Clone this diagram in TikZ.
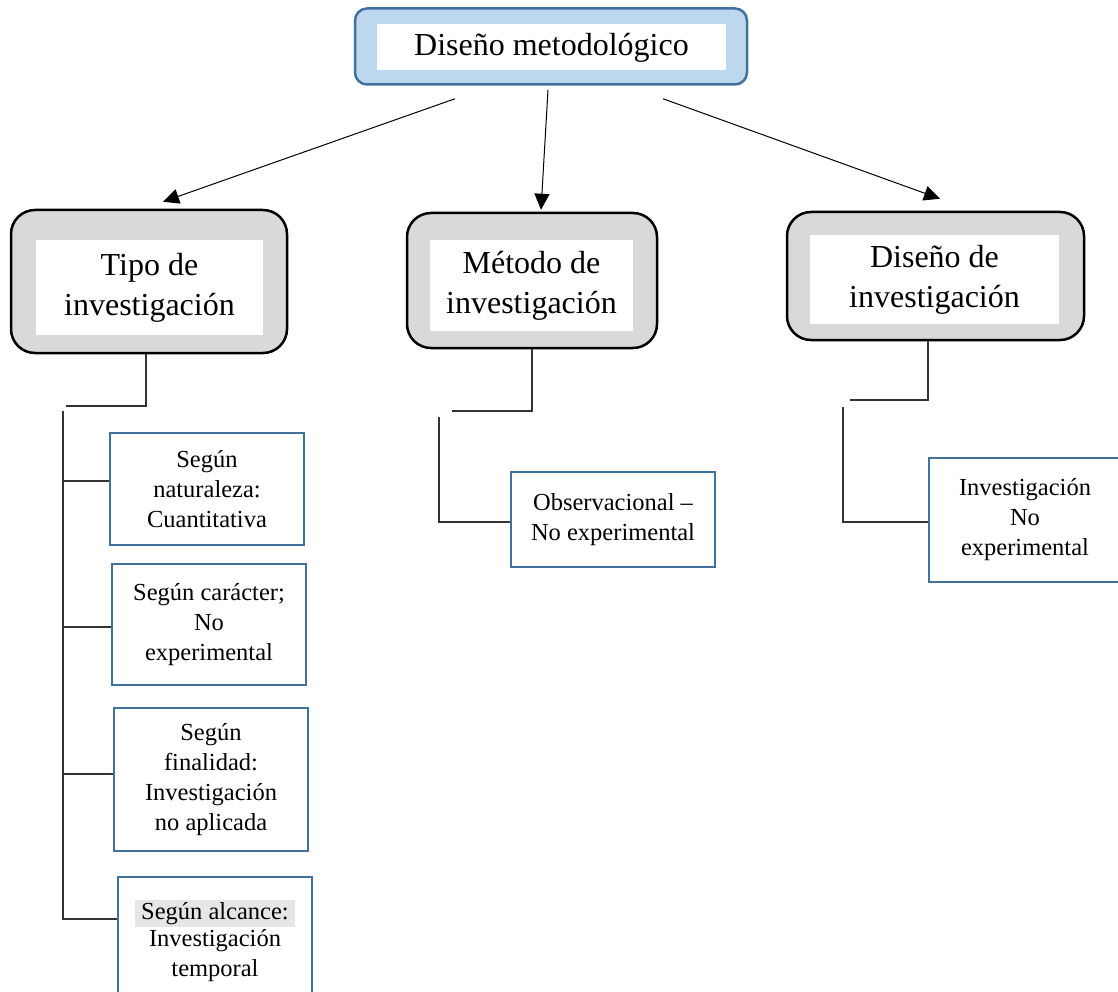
\documentclass[tikz,border=0pt]{standalone}
\usepackage{fontspec}
\setmainfont{Liberation Serif}
\usetikzlibrary{arrows.meta, calc, shapes, positioning}

\definecolor{boxblue}{HTML}{41719C}
\definecolor{lightblue}{HTML}{BDD7EE}
\definecolor{boxgray}{HTML}{D9D9D9}
\definecolor{markgray}{HTML}{E7E6E6}

\tikzset{
	mainbox/.style={draw=boxblue, line width=2.5pt, fill=lightblue, rounded corners=12pt, inner sep=0pt},
	groupbox/.style={draw=black, line width=2.5pt, fill=boxgray, rounded corners=24pt, inner sep=0pt},
	innerbox/.style={fill=white, align=center, inner sep=0pt, font=\fontsize{32}{40}\selectfont},
	leafbox/.style={draw=boxblue, line width=2pt, fill=white, align=center, inner sep=0pt, minimum width=194pt, font=\fontsize{24.5}{30}\selectfont},
	link/.style={line width=1.3pt, draw=black!80},
	pointer/.style={line width=1pt, -{Triangle[length=16pt,width=15pt]}}
}

\begin{document}
\begin{tikzpicture}[x=1pt, y=-1pt]
			\useasboundingbox (0,0) rectangle (1118,992);
			\clip (0,0) rectangle (1118,992);
			
			% Draw Top Box
			\node[mainbox, minimum width=392pt, minimum height=76pt] (top) at (551,46.5) {};
			\node[innerbox, minimum width=349pt, minimum height=46pt] (topTxt) at (551.5,47.5) {Diseño metodológico};
			
			% Draw Group Boxes
			\node[groupbox, minimum width=276pt, minimum height=143pt] (tipo) at (149,281.5) {};
			\node[innerbox, minimum width=227pt, minimum height=95pt] (tipoTxt) at (149.5,287.5) {Tipo de\\investigación};
			\node[groupbox, minimum width=250pt, minimum height=135pt] (metodo) at (532,280.5) {};
			\node[innerbox, minimum width=203pt, minimum height=91pt] (metodoTxt) at (531.5,285.5) {Método de\\investigación};
			\node[groupbox, minimum width=297pt, minimum height=128pt] (diseno) at (935.5,276) {};
			\node[innerbox, minimum width=249pt, minimum height=89pt] (disenoTxt) at (934.5,279.5) {Diseño de\\investigación};
			
			% Draw Arrows
			\draw[pointer] ([xshift=-96pt,yshift=-13pt]top.south) -- ([xshift=14pt,yshift=7pt]tipo.north);
			\draw[pointer] ([xshift=-3pt,yshift=-4pt]top.south) -- ([xshift=9pt,yshift=2pt]metodo.north);
			\draw[pointer] ([xshift=112pt,yshift=-13pt]top.south) -- ([xshift=4.5pt,yshift=12pt]diseno.north);
			
			% Draw Leaf Boxes
			\node[leafbox, minimum height=112pt] (nat) at (207,489) {Según\\naturaleza:\\Cuantitativa};
			\node[leafbox, minimum height=121pt] (car) at (209,624.5) {Según carácter;\\No\\experimental};
			\node[leafbox, minimum height=143pt] (fin) at (211,779.5) {Según\\finalidad:\\Investigación\\no aplicada};
			\node[leafbox, minimum height=128pt] (alc) at (215,941) {{\setlength{\fboxsep}{2pt}\colorbox{markgray}{\,Según alcance:\,}}\\[-3pt]Investigación\\temporal};
			\node[leafbox, minimum width=204pt, minimum height=95pt] (obs) at (613,519.5) {Observacional --\\No experimental};
			\node[leafbox, minimum width=192pt, minimum height=124pt] (noexp) at (1025,520) {Investigación\\No\\experimental};
			
			% Draw Tipo Connectors
			\coordinate (tEnd) at (66,406);
			\coordinate (tTop) at (63,411);
			\coordinate (tBot) at (63,920);
			\draw[link] ([xshift=-3pt]tipo.south) |- (tEnd);
			\draw[link] (tTop) -- (tBot);
			\foreach \y/\leaf in {481/nat, 627/car, 774/fin, 919/alc} {
				\coordinate (b\leaf) at (63,\y);
				\draw[link] (b\leaf) -- (b\leaf -| \leaf.west);
			}
			
			% Draw Metodo Connectors
			\coordinate (mEnd) at (452,411);
			\coordinate (mTop) at (439,417);
			\coordinate (mBend) at (439,522);
			\draw[link] (metodo.south) |- (mEnd);
			\draw[link] (mTop) -- (mBend) -- (mBend -| obs.west);
			
			% Draw Diseno Connectors
			\coordinate (rEnd) at (850,400);
			\coordinate (rTop) at (843,407);
			\coordinate (rBend) at (843,522);
			\draw[link] ([xshift=-7.5pt]diseno.south) |- (rEnd);
			\draw[link] (rTop) -- (rBend) -- (rBend -| noexp.west);
		\end{tikzpicture}
\end{document}
